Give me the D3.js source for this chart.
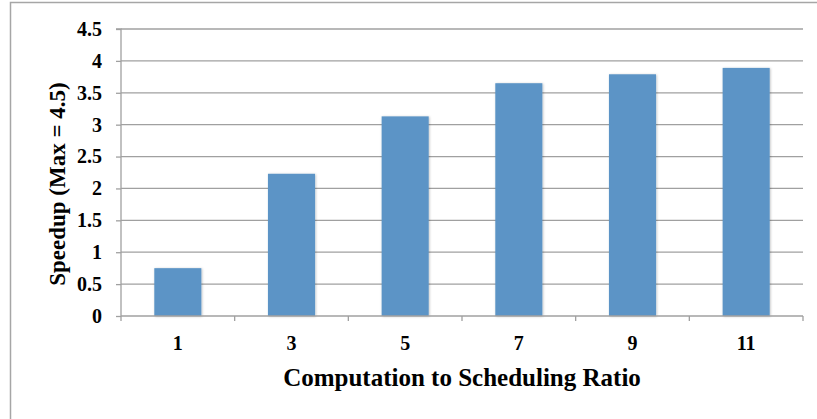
<!DOCTYPE html>
<html><head><meta charset="utf-8">
<script src="https://cdn.jsdelivr.net/npm/d3@7"></script>
<style>body{margin:0;background:#fff}svg{display:block}</style>
</head><body>
<svg id="chart" width="817" height="419"></svg>
<script>
const categories = ["1", "3", "5", "7", "9", "11"];
const speedup = [0.75, 2.23, 3.13, 3.65, 3.79, 3.89];
const yTicks = [0, 0.5, 1, 1.5, 2, 2.5, 3, 3.5, 4, 4.5];
const yTitle = "Speedup (Max = 4.5)";
const xTitle = "Computation to Scheduling Ratio";

const svg = d3.select("#chart");
const m = {left: 121, right: 803, top: 29, bottom: 316};
const font = "'Liberation Serif','Times New Roman',serif";

// frame
svg.append("rect").attr("x", 10.5).attr("y", 2.5).attr("width", 830).attr("height", 430)
  .attr("fill", "none").attr("stroke", "#a6a6a6").attr("stroke-width", 1.5);

const x = d3.scaleBand().domain(categories).range([m.left, m.right]).paddingInner(0.586).paddingOuter(0.293);
const y = d3.scaleLinear().domain([0, 4.5]).range([m.bottom, m.top]);

// gridlines
svg.append("g").selectAll("line").data(yTicks.filter(d => d > 0)).join("line")
  .attr("x1", m.left).attr("x2", m.right)
  .attr("y1", d => y(d)).attr("y2", d => y(d))
  .attr("stroke", "#a0a0a0").attr("stroke-width", 1.3);

// shadow filter
const defs = svg.append("defs");
const f = defs.append("filter").attr("id", "sh").attr("x", "-20%").attr("y", "-20%").attr("width", "140%").attr("height", "140%");
f.append("feDropShadow").attr("dx", 0.8).attr("dy", 0.5).attr("stdDeviation", 1).attr("flood-color", "#000").attr("flood-opacity", 0.25);

// bars
svg.append("g").selectAll("rect").data(speedup).join("rect")
  .attr("x", (d, i) => x(categories[i]))
  .attr("width", x.bandwidth())
  .attr("y", d => y(d))
  .attr("height", d => y(0) - y(d))
  .attr("fill", "#5b94c6")
  .attr("filter", "url(#sh)");

// y axis
const yAxis = d3.axisLeft(y).tickValues(yTicks).tickSize(5).tickPadding(14).tickFormat(d3.format("~g"));
const ya = svg.append("g").attr("transform", `translate(${m.left},0)`).call(yAxis);
ya.select(".domain").attr("stroke", "#a0a0a0").attr("stroke-width", 1.3).attr("d", `M-5,${m.top}H0V${m.bottom}`);
ya.selectAll(".tick line").attr("stroke", "#a0a0a0").attr("stroke-width", 1.3);
ya.selectAll("text").attr("font-family", font).attr("font-weight", "bold").attr("font-size", 20).attr("fill", "#000");

// x axis with boundary ticks
const xa = svg.append("g").attr("transform", `translate(0,${m.bottom})`);
xa.append("line").attr("x1", m.left).attr("x2", m.right).attr("y1", 0).attr("y2", 0)
  .attr("stroke", "#a0a0a0").attr("stroke-width", 1.3);
xa.selectAll("line.tk").data(d3.range(categories.length + 1)).join("line").attr("class", "tk")
  .attr("x1", i => m.left + i * (m.right - m.left) / categories.length)
  .attr("x2", i => m.left + i * (m.right - m.left) / categories.length)
  .attr("y1", 0).attr("y2", 5).attr("stroke", "#a0a0a0").attr("stroke-width", 1.3);
xa.selectAll("text").data(categories).join("text")
  .attr("x", d => x(d) + x.bandwidth() / 2).attr("y", 34)
  .attr("text-anchor", "middle")
  .attr("font-family", font).attr("font-weight", "bold").attr("font-size", 20).attr("fill", "#000")
  .text(d => d);

// titles
svg.append("text").attr("x", (m.left + m.right) / 2).attr("y", 386)
  .attr("text-anchor", "middle").attr("font-family", font).attr("font-weight", "bold").attr("font-size", 25)
  .text(xTitle);
svg.append("text").attr("transform", "translate(65,184) rotate(-90)")
  .attr("text-anchor", "middle").attr("font-family", font).attr("font-weight", "bold").attr("font-size", 23)
  .text(yTitle);
</script>
</body></html>
